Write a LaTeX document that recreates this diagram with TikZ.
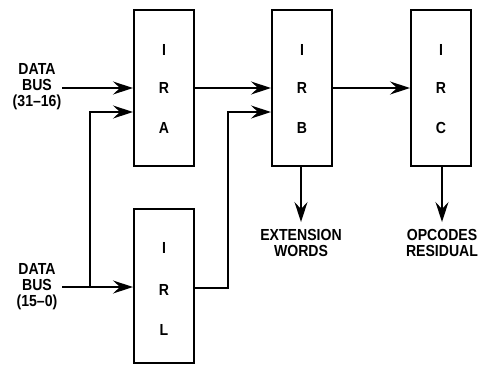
\documentclass[tikz,border=0pt]{standalone}
\usepackage{fontspec}
\setmainfont{Liberation Sans}
\newfontfamily\lblfont[FakeStretch=0.88]{Liberation Sans}
\usetikzlibrary{arrows.meta}
\begin{document}
\begin{tikzpicture}[x=1pt,y=-1pt,
  reg/.style={draw,line width=2pt,minimum width=60pt,anchor=north west,inner sep=0pt},
  lbl/.style={font=\lblfont\bfseries\fontsize{16}{16}\selectfont,align=center,inner sep=0pt},
  conn/.style={line width=1.4pt,-{Stealth[length=20pt,width=13pt,inset=7pt]}},
  wire/.style={line width=1.4pt}]
\useasboundingbox (0,0) rectangle (481,365);
\node[reg,minimum height=156pt] (ira) at (133,9) {};
\node[reg,minimum height=154pt] (irl) at (133,208) {};
\node[reg,minimum height=156pt] (irb) at (271,9) {};
\node[reg,minimum height=156pt] (irc) at (410,9) {};
\foreach \b/\c in {ira/A,irb/B,irc/C}{
  \node[lbl] (\b-1) at ([yshift=-41pt]\b.north) {I};
  \node[lbl] (\b-2) at ([yshift=-79pt]\b.north) {R};
  \node[lbl] (\b-3) at ([yshift=-119pt]\b.north) {\c};
}
\node[lbl] (irl-1) at ([yshift=-40pt]irl.north) {I};
\node[lbl] (irl-2) at ([yshift=-82pt]irl.north) {R};
\node[lbl] (irl-3) at ([yshift=-122pt]irl.north) {L};
\node[lbl] (dbh) at (37,87) {DATA\\BUS\\(31–16)};
\node[lbl] (dbl) at (37,287) {DATA\\BUS\\(15–0)};
\node[lbl] (ext) at (301,243) {EXTENSION\\WORDS};
\node[lbl] (opc) at (442,243) {OPCODES\\RESIDUAL};
\coordinate (j1) at (90,287);
\coordinate (j2) at (228,288);
\draw[conn] (62,88) -- (ira.west |- 0,88);
\draw[conn] (62,287) -- (irl.west |- 0,287);
\draw[conn] (j1) -- (90,112) -- (ira.west |- 0,112);
\draw[conn] (ira.east |- 0,88) -- (irb.west |- 0,88);
\draw[conn] (irl.east |- 0,288) -- (j2) -- (228,112) -- (irb.west |- 0,112);
\draw[conn] (irb.east |- 0,88) -- (irc.west |- 0,88);
\draw[conn] (irb.south -| 301,0) -- (301,222);
\draw[conn] (irc.south -| 442,0) -- (442,222);
\end{tikzpicture}
\end{document}
